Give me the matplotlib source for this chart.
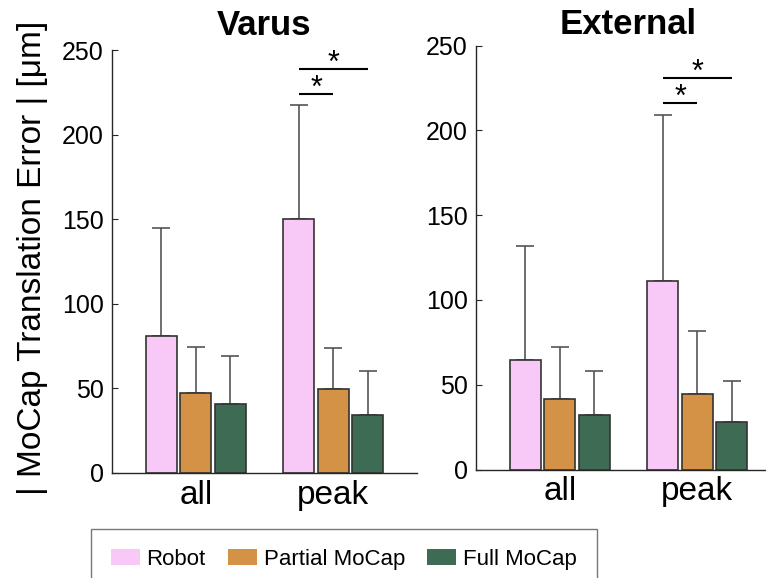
import numpy as np
import matplotlib
matplotlib.use("Agg")
import matplotlib.pyplot as plt

plt.rcParams['font.family'] = ['Liberation Sans', 'DejaVu Sans']

groups = ["all", "peak"]
series = ["Robot", "Partial MoCap", "Full MoCap"]
colors = ["#F8C9F7", "#D39246", "#3E6B53"]

# mean values and upper error (mean + sd tops)
varus_mean = [[81, 150], [47, 49.5], [41, 34.5]]
varus_top = [[145, 217.5], [74.5, 74], [69, 60.5]]
external_mean = [[64.5, 111], [41.5, 44.5], [32, 28]]
external_top = [[131.5, 209], [72.5, 81.5], [58, 52]]

# significance brackets: (from series, to series, y level) in the peak group
varus_sig = [(0, 1, 224), (0, 2, 239)]
external_sig = [(0, 1, 216), (0, 2, 231)]

offsets = [-0.25, 0, 0.25]
bar_w = 0.225


def draw_panel(ax, title, means, tops, sigs, tpad):
    x = np.arange(1, len(groups) + 1)
    for i, name in enumerate(series):
        m = np.array(means[i])
        err = np.array(tops[i]) - m
        ax.bar(x + offsets[i], m, bar_w, color=colors[i], edgecolor="#333333",
               linewidth=1.2, label=name, zorder=2)
        ax.errorbar(x + offsets[i], m, yerr=[np.zeros_like(err), err], fmt="none",
                    ecolor="#555555", elinewidth=1.2, capsize=6.5, capthick=1.2, zorder=1)
    for a, b, y in sigs:
        x0 = x[1] + offsets[a]
        x1 = x[1] + offsets[b]
        ax.plot([x0, x1], [y, y], color="black", lw=1.5, solid_capstyle="butt")
        ax.text((x0 + x1) / 2, y - 6, "*", ha="center", va="bottom", fontsize=22)
    ax.set_xlim(0.39, 2.61)
    ax.set_ylim(0, 250)
    ax.set_yticks([0, 50, 100, 150, 200, 250])
    ax.set_xticks(x)
    ax.set_xticklabels(groups, fontsize=24)
    ax.tick_params(axis="y", labelsize=18, direction="in", length=4, color="#262626", pad=6)
    ax.tick_params(axis="x", direction="in", length=4, color="#262626", pad=5)
    for s in ["top", "right"]:
        ax.spines[s].set_visible(False)
    for s in ["left", "bottom"]:
        ax.spines[s].set_color("#262626")
        ax.spines[s].set_linewidth(1.0)
    ax.set_title(title, fontsize=25, fontweight="bold", pad=tpad)


fig = plt.figure(figsize=(7.66, 5.78), dpi=100)
ax1 = fig.add_axes([112 / 766, 1 - 473 / 578, 305 / 766, 423 / 578])
ax2 = fig.add_axes([476 / 766, 1 - 469.5 / 578, 305 / 766, 424 / 578])

draw_panel(ax1, "Varus", varus_mean, varus_top, varus_sig, 11)
draw_panel(ax2, "External", external_mean, external_top, external_sig, 8)

fig.text(33 / 766, 1 - 258 / 578, "| MoCap Translation Error | [μm]", rotation=90,
         ha="center", va="center", fontsize=24)

handles, labels = ax1.get_legend_handles_labels()
leg = fig.legend(handles, labels, loc="upper left", bbox_to_anchor=(91 / 766, 1 - 529 / 578),
                 borderaxespad=0, ncol=3, fontsize=16, frameon=True, fancybox=False,
                 edgecolor="#555555", handlelength=1.3, handleheight=0.7,
                 columnspacing=1.0, handletextpad=0.3, borderpad=0.9)
leg.get_frame().set_linewidth(1.0)
for h in leg.legend_handles:
    h.set_edgecolor("none")

fig.savefig("out.png", dpi=100)
